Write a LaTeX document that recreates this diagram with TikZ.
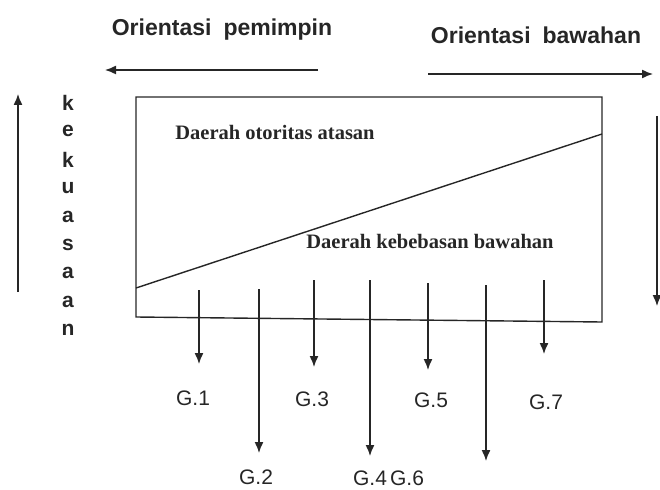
\documentclass[tikz,border=0pt]{standalone}
\usepackage{fontspec}
\setmainfont{Liberation Serif}
\newfontfamily\arialf{Liberation Sans}
\usetikzlibrary{arrows.meta}
\begin{document}
\begin{tikzpicture}[x=1pt,y=-1pt,
  line/.style={line width=1.4pt, draw=black!85},
  arr/.style={line, -{Latex[length=11pt,width=9pt]}},
  head/.style={font=\arialf\bfseries\fontsize{23}{25}\selectfont, text=black!85, inner sep=0pt},
  vlet/.style={font=\arialf\bfseries\fontsize{21}{23}\selectfont, text=black!85, inner sep=0pt},
  area/.style={font=\bfseries\fontsize{20.5}{22}\selectfont, text=black!85, inner sep=0pt},
  glab/.style={font=\arialf\fontsize{21}{23}\selectfont, text=black!85, inner sep=0pt}]
\useasboundingbox (0,0) rectangle (660,489);
% headers
\node[head] (hl) at (222,30) {Orientasi\hspace{12pt}pemimpin};
\node[head] (hr) at (536,35) {Orientasi\hspace{12pt}bawahan};
\coordinate (la1) at (318,70); \coordinate (la2) at (105,70);
\coordinate (ra1) at (428,74); \coordinate (ra2) at (653,74);
\draw[arr] (la1) -- (la2);
\draw[arr] (ra1) -- (ra2);
% vertical arrows
\coordinate (vl1) at (18,292); \coordinate (vl2) at (18,94);
\draw[arr] (vl1) -- (vl2);
\coordinate (vr1) at (657,116); \coordinate (vr2) at (657,306);
\draw[arr] (vr1) -- (vr2);
% kekuasaan
\foreach \l [count=\i] in {k,e,k,u,a,s,a,a,n}
  \node[vlet] (kv\i) at (68,{103+28.4*(\i-1)}) {\l};
% box
\coordinate (bTL) at (136,97); \coordinate (bTR) at (602,97);
\coordinate (bBR) at (602,322); \coordinate (bBL) at (136,317);
\draw[line] (bTL) -- (bTR) -- (bBR) -- (bBL) -- cycle;
\coordinate (d1) at (136,288); \coordinate (d2) at (602,134);
\draw[line] (d1) -- (d2);
\node[area] (atas) at (275,132) {Daerah otoritas atasan};
\node[area] (bawah) at (430,241) {Daerah kebebasan bawahan};
% G arrows
\foreach \n/\x/\ya/\yb in {1/199/290/364, 2/259/289/453, 3/314/280/367, 4/370/280/456, 5/428/283/370, 6/486/285/461, 7/544/280/354}{
  \coordinate (gs\n) at (\x,\ya);
  \coordinate (ge\n) at (\x,\yb);
  \draw[arr] (gs\n) -- (ge\n);
}
\node[glab] (g1) at (193,398) {G.1};
\node[glab] (g2) at (256,477) {G.2};
\node[glab] (g3) at (312,399) {G.3};
\node[glab] (g5) at (431,400) {G.5};
\node[glab] (g7) at (546,402) {G.7};
\node[glab] (g4) at (370,478) {G.4};
\node[glab] (g6) at (407,478) {G.6};
\end{tikzpicture}
\end{document}
